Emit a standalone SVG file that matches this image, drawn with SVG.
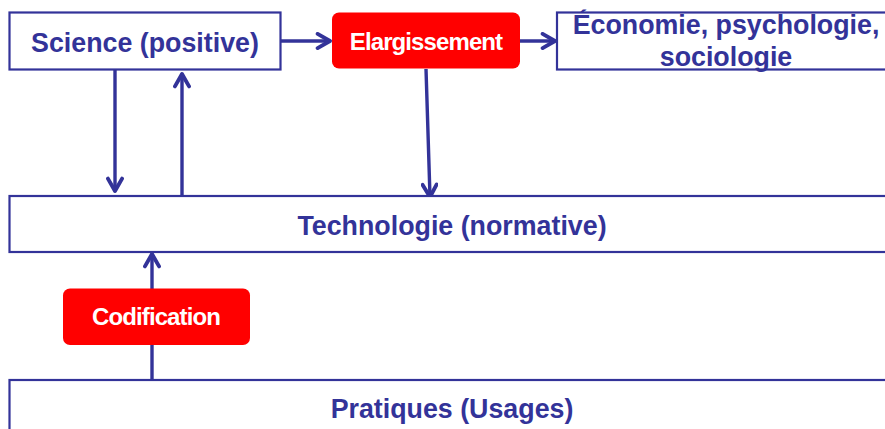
<svg xmlns="http://www.w3.org/2000/svg" width="885" height="429" viewBox="0 0 885 429">
  <style>
    .box { fill: #FFFFFF; stroke: #333399; stroke-width: 2.2; }
    .tag { fill: #FF0000; }
    .lbl { font-family: "Liberation Sans", Arial, sans-serif; font-weight: bold; font-size: 26.8px; fill: #333399; text-anchor: middle; }
    .tagl { font-family: "Liberation Sans", Arial, sans-serif; font-weight: bold; font-size: 24px; fill: #FFFFFF; text-anchor: middle; letter-spacing: -0.9px; }
    .edge { stroke: #333399; stroke-width: 3.4; fill: none; marker-end: url(#chev); }
  </style>
  <defs>
    <marker id="chev" viewBox="0 0 10 10" refX="8.5" refY="5" markerWidth="5.2" markerHeight="5.2" orient="auto" markerUnits="strokeWidth">
      <path d="M1.5,1 L8.5,5 L1.5,9" fill="none" stroke="#333399" stroke-width="2.2" stroke-linecap="round" stroke-linejoin="round"/>
    </marker>
  </defs>
  <rect width="885" height="429" fill="#FFFFFF"/>

  <!-- links drawn first so the red tags sit on top of them -->
  <g id="connectors">
    <line class="edge" x1="281" y1="41" x2="330" y2="41"/>
    <line class="edge" x1="520" y1="41" x2="555" y2="41"/>
    <line class="edge" x1="115" y1="70" x2="115" y2="191"/>
    <line class="edge" x1="182" y1="195" x2="182" y2="74"/>
    <line class="edge" x1="426" y1="69" x2="430" y2="197"/>
    <line class="edge" x1="152" y1="380" x2="152" y2="254"/>
  </g>

  <g id="science">
    <rect class="box" x="9.5" y="12.5" width="271" height="57"/>
    <text class="lbl" x="145" y="52">Science (positive)</text>
  </g>

  <g id="elargissement">
    <rect class="tag" x="332" y="12.5" width="188" height="56" rx="7"/>
    <text class="tagl" x="426" y="50">Elargissement</text>
  </g>

  <g id="economie">
    <rect class="box" x="557" y="12.5" width="340" height="57"/>
    <text class="lbl" x="726" y="34">Économie, psychologie,</text>
    <text class="lbl" x="726" y="66">sociologie</text>
  </g>

  <g id="technologie">
    <rect class="box" x="9.5" y="196" width="890" height="56"/>
    <text class="lbl" x="452" y="235">Technologie (normative)</text>
  </g>

  <g id="codification">
    <rect class="tag" x="63" y="288.5" width="187" height="56.5" rx="7"/>
    <text class="tagl" x="156" y="325">Codification</text>
  </g>

  <g id="pratiques">
    <rect class="box" x="9.5" y="380" width="890" height="60"/>
    <text class="lbl" x="452" y="418">Pratiques (Usages)</text>
  </g>
</svg>
